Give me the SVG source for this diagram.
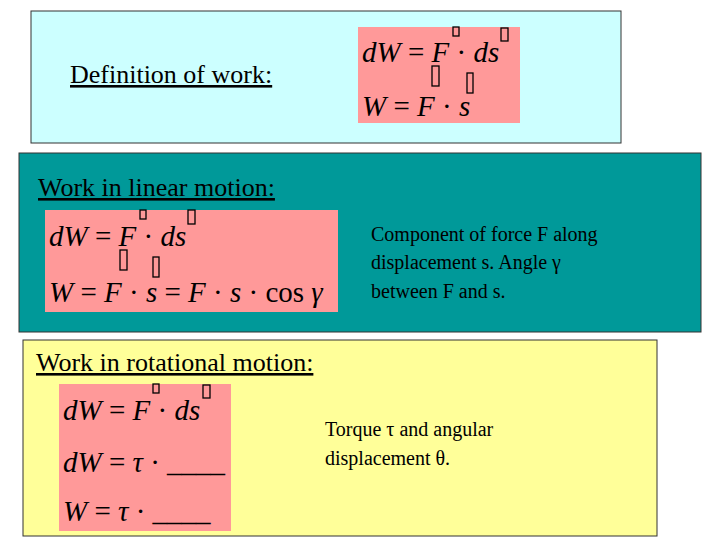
<svg xmlns="http://www.w3.org/2000/svg" width="720" height="540" viewBox="0 0 720 540">
<style>
.t{font-family:"Liberation Serif",serif;font-size:26px;fill:#000}
.u{text-decoration:underline}
.m{font-family:"Liberation Serif",serif;font-size:29px;font-style:italic;fill:#000}
.n{font-style:normal}
.s{font-family:"Liberation Serif",serif;font-size:20px;fill:#000}
.pk{fill:#ff9999}
.tf{fill:none;stroke:#000;stroke-width:1.3}
</style>
<rect width="720" height="540" fill="#fff"/>
<g id="definition">
<rect x="31" y="11" width="590" height="132" fill="#ccffff" stroke="#333" stroke-width="1"/>
<text class="t u" x="70" y="83">Definition of work:</text>
<rect class="pk" x="358" y="27" width="162" height="96"/>
<text class="m" x="362" y="62">dW <tspan class="n">=</tspan> F <tspan class="n">·</tspan> ds</text>
<text class="m" x="362" y="116">W <tspan class="n">=</tspan> F <tspan class="n">·</tspan> s</text>
<rect class="tf" x="453" y="27" width="6" height="9"/>
<rect class="tf" x="501" y="28" width="7" height="13"/>
<rect class="tf" x="432" y="66" width="7" height="20"/>
<rect class="tf" x="467" y="73" width="6" height="20"/>
</g>
<g id="linear">
<rect x="19" y="153" width="682" height="179" fill="#009999" stroke="#333" stroke-width="1"/>
<text class="t u" x="38" y="196">Work in linear motion:</text>
<rect class="pk" x="45" y="210" width="293" height="102"/>
<text class="m" x="49" y="246">dW <tspan class="n">=</tspan> F <tspan class="n">·</tspan> ds</text>
<text class="m" x="49" y="302">W <tspan class="n">=</tspan> F <tspan class="n">·</tspan> s <tspan class="n">=</tspan> F <tspan class="n">·</tspan> s <tspan class="n">· cos</tspan> γ</text>
<rect class="tf" x="140" y="210" width="6" height="9"/>
<rect class="tf" x="188" y="210" width="7" height="14"/>
<rect class="tf" x="120" y="250" width="7" height="20"/>
<rect class="tf" x="153" y="257" width="6" height="20"/>
<text class="s" x="371" y="241">Component of force F along</text>
<text class="s" x="371" y="269">displacement s. Angle γ</text>
<text class="s" x="371" y="298">between F and s.</text>
</g>
<g id="rotational">
<rect x="23" y="340" width="634" height="196" fill="#ffff99" stroke="#333" stroke-width="1"/>
<text class="t u" x="36" y="371">Work in rotational motion:</text>
<rect class="pk" x="59" y="384" width="172" height="147"/>
<text class="m" x="63" y="420">dW <tspan class="n">=</tspan> F <tspan class="n">·</tspan> ds</text>
<text class="m" x="63" y="472">dW <tspan class="n">=</tspan> τ <tspan class="n">· ____</tspan></text>
<text class="m" x="63" y="521">W <tspan class="n">=</tspan> τ <tspan class="n">· ____</tspan></text>
<rect class="tf" x="153" y="384" width="6" height="9"/>
<rect class="tf" x="203" y="385" width="7" height="13"/>
<text class="s" x="325" y="436">Torque τ and angular</text>
<text class="s" x="325" y="465">displacement θ.</text>
</g>
</svg>
